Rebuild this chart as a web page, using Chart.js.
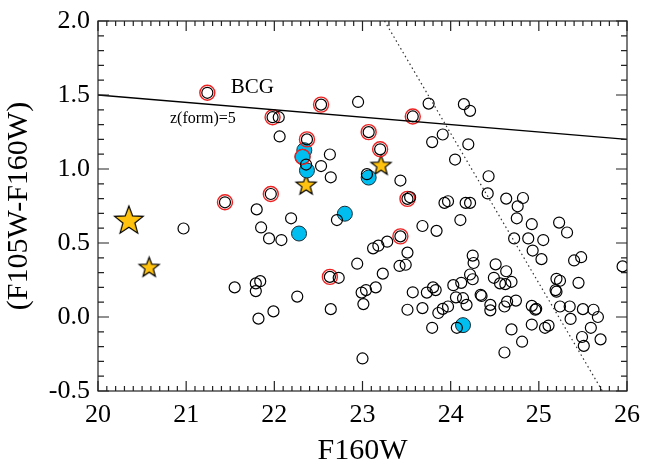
<!DOCTYPE html>
<html>
<head>
<meta charset="utf-8">
<script src="https://cdn.jsdelivr.net/npm/chart.js@4.4.0/dist/chart.umd.min.js"></script>
<style>
    html, body { margin: 0; padding: 0; background: #fff; }
</style>
</head>
<body>
<canvas id="cmdChart" width="651" height="466"></canvas>
<script>
// axis ticks
const xTicks = [20, 21, 22, 23, 24, 25, 26];
const yTicks = [-0.5, 0.0, 0.5, 1.0, 1.5, 2.0];

// field galaxies (open black circles)
const fieldMag = [21.24, 21.98, 22.05, 22.06, 22.53, 22.95, 22.37, 22.63, 22.36, 22.53, 22.64, 21.96, 21.44,
    23.07, 23.75, 23.57, 24.15, 24.22, 23.91, 23.79, 24.20, 23.20, 23.05, 23.43, 24.05, 24.43, 24.42, 24.63,
    24.82, 24.76, 23.51, 23.54, 23.93, 23.97, 24.17, 24.22, 24.75, 24.11, 23.68, 23.84, 23.43, 24.92, 25.23,
    25.32, 24.72, 24.88, 25.05, 24.93, 25.03, 25.40, 25.48, 25.95, 23.12, 23.18, 23.28, 23.51, 23.42, 23.49,
    23.23, 22.94, 24.25, 24.26, 24.51, 24.63, 24.22, 24.25, 24.49, 24.56, 24.62, 24.69, 24.03, 24.12, 23.80,
    23.83, 23.57, 23.73, 24.06, 24.14, 24.18, 24.35, 24.34, 24.45, 24.45, 24.61, 24.64, 24.74, 23.68, 23.51,
    23.01, 22.99, 23.04, 23.15, 23.86, 23.91, 23.97, 23.79, 24.07, 24.69, 24.81, 24.61, 23.00, 24.92, 24.96,
    24.97, 24.92, 25.07, 25.11, 25.20, 25.24, 25.19, 25.20, 25.45, 25.24, 25.35, 25.36, 25.50, 25.62, 25.67,
    25.59, 25.49, 25.51, 25.70, 20.97, 21.80, 21.85, 21.94, 22.08, 22.19, 22.71, 22.63, 22.73, 21.55, 21.79,
    21.84, 21.79, 22.26, 21.99, 21.82, 22.64];
const fieldColor = [1.515, 1.35, 1.35, 1.22, 1.435, 1.453, 1.20, 1.098, 1.03, 1.02, 0.944, 0.831, 0.775,
    1.249, 1.442, 1.355, 1.438, 1.393, 1.233, 1.182, 1.167, 1.133, 0.965, 0.922, 1.064, 0.951, 0.835, 0.80,
    0.804, 0.748, 0.798, 0.809, 0.771, 0.782, 0.771, 0.771, 0.667, 0.655, 0.615, 0.582, 0.545, 0.627, 0.638,
    0.571, 0.531, 0.531, 0.52, 0.449, 0.391, 0.382, 0.404, 0.342, 0.464, 0.482, 0.509, 0.435, 0.345, 0.353,
    0.293, 0.36, 0.415, 0.365, 0.356, 0.309, 0.287, 0.255, 0.265, 0.227, 0.222, 0.238, 0.215, 0.231, 0.20,
    0.182, 0.167, 0.165, 0.133, 0.127, 0.082, 0.142, 0.15, 0.082, 0.045, 0.071, 0.104, 0.111, 0.06, 0.049,
    0.087, 0.165, 0.182, 0.20, 0.027, 0.055, 0.071, -0.073, -0.073, -0.084, -0.167, -0.24, -0.28, 0.075, 0.049,
    0.055, -0.051, -0.073, -0.058, 0.258, 0.245, 0.182, 0.171, 0.231, 0.071, 0.071, -0.013, 0.053, 0.049, 0.0,
    -0.073, -0.135, -0.195, -0.151, 0.598, 0.727, 0.605, 0.531, 0.52, 0.667, 0.655, 0.271, 0.265, 0.20, 0.227,
    0.242, 0.175, 0.138, 0.038, -0.011, 0.053];

// red rings
const ringMag = [21.24, 21.98, 22.53, 22.37, 22.32, 23.07, 23.57, 23.20, 21.96, 21.44, 23.51, 23.43, 22.63];
const ringColor = [1.515, 1.35, 1.435, 1.20, 1.082, 1.249, 1.355, 1.133, 0.831, 0.775, 0.798, 0.545, 0.271];

// filled blue circles
const blueMag = [22.34, 22.32, 22.37, 23.07, 22.28, 22.80, 24.14];
const blueColor = [1.127, 1.082, 0.99, 0.942, 0.564, 0.698, -0.055];

// stars (first one is the big one)
const starMag = [20.35, 20.58, 22.36, 23.21];
const starColor = [0.649, 0.333, 0.889, 1.022];

// red sequence line and magnitude cut
const bcgMag = [20, 26];
const bcgColor = [1.5, 1.2];
const cutMag = [23.25, 25.72];
const cutColor = [2.0, -0.5];

const serif = "'Liberation Serif', 'Times New Roman', serif";

function toPoints(xs, ys) {
    return xs.map((x, i) => ({ x: x, y: ys[i] }));
}

function starImage(r) {
    const c = document.createElement('canvas');
    const s = Math.ceil(2 * r + 4);
    c.width = s;
    c.height = s;
    const g = c.getContext('2d');
    g.beginPath();
    for (let i = 0; i < 10; i++) {
        const a = -Math.PI / 2 + i * Math.PI / 5;
        const rr = i % 2 ? r * 0.42 : r;
        g.lineTo(s / 2 + rr * Math.cos(a), s / 2 + rr * Math.sin(a));
    }
    g.closePath();
    g.fillStyle = '#ffc20e';
    g.fill();
    g.lineWidth = 1.2;
    g.strokeStyle = '#000';
    g.stroke();
    return c;
}

const bigStar = starImage(15);
const smallStar = starImage(10.5);

// frame, inward ticks on all sides, labels in the plot
const axisDecor = {
    id: 'axisDecor',
    afterDraw(chart) {
        const ctx = chart.ctx;
        const a = chart.chartArea;
        const xs = chart.scales.x;
        const ys = chart.scales.y;
        ctx.save();
        ctx.strokeStyle = '#222';
        ctx.lineWidth = 1.2;
        ctx.strokeRect(a.left, a.top, a.right - a.left, a.bottom - a.top);

        ctx.beginPath();
        const nx = Math.round((xs.max - xs.min) / 0.1);
        for (let i = 0; i <= nx; i++) {
            const v = xs.min + i * 0.1;
            const px = xs.getPixelForValue(v);
            const len = i % 10 === 0 ? 10 : 5;
            ctx.moveTo(px, a.bottom);
            ctx.lineTo(px, a.bottom - len);
            ctx.moveTo(px, a.top);
            ctx.lineTo(px, a.top + len);
        }
        const ny = Math.round((ys.max - ys.min) / 0.1);
        for (let i = 0; i <= ny; i++) {
            const v = ys.min + i * 0.1;
            const py = ys.getPixelForValue(v);
            const len = i % 5 === 0 ? 11 : 6;
            ctx.moveTo(a.left, py);
            ctx.lineTo(a.left + len, py);
            ctx.moveTo(a.right, py);
            ctx.lineTo(a.right - len, py);
        }
        ctx.stroke();

        ctx.fillStyle = '#000';
        ctx.textAlign = 'center';
        ctx.textBaseline = 'middle';
        ctx.font = '21px ' + serif;
        ctx.fillText('BCG', xs.getPixelForValue(21.75), ys.getPixelForValue(1.548));
        ctx.font = '16px ' + serif;
        ctx.fillText('z(form)=5', xs.getPixelForValue(21.19), ys.getPixelForValue(1.341));
        ctx.restore();
    }
};

new Chart(document.getElementById('cmdChart'), {
    type: 'scatter',
    data: {
        datasets: [
            {
                type: 'line',
                data: toPoints(bcgMag, bcgColor),
                borderColor: '#000',
                borderWidth: 1.3,
                pointRadius: 0,
                fill: false
            },
            {
                type: 'line',
                data: toPoints(cutMag, cutColor),
                borderColor: '#333',
                borderWidth: 1.2,
                borderDash: [1.5, 3],
                pointRadius: 0,
                fill: false
            },
            {
                data: toPoints(fieldMag, fieldColor),
                pointRadius: 5.5,
                pointBackgroundColor: 'rgba(0,0,0,0)',
                pointBorderColor: '#000',
                pointBorderWidth: 1.2
            },
            {
                data: toPoints(ringMag, ringColor),
                pointRadius: 7.5,
                pointBackgroundColor: 'rgba(0,0,0,0)',
                pointBorderColor: '#ee2020',
                pointBorderWidth: 1.4
            },
            {
                data: toPoints(blueMag, blueColor),
                pointRadius: 7.5,
                pointBackgroundColor: '#00bff0',
                pointBorderColor: '#1b2b33',
                pointBorderWidth: 1
            },
            {
                data: toPoints(starMag, starColor),
                pointStyle: [bigStar, smallStar, smallStar, smallStar]
            }
        ]
    },
    options: {
        responsive: false,
        animation: false,
        events: [],
        layout: { padding: { top: 13, right: 15, left: 0, bottom: 0 } },
        plugins: {
            legend: { display: false },
            tooltip: { enabled: false }
        },
        scales: {
            x: {
                type: 'linear',
                min: 20,
                max: 26,
                afterBuildTicks: s => { s.ticks = xTicks.map(v => ({ value: v })); },
                afterFit: s => { s.height = 75; },
                grid: { display: false, drawTicks: false },
                border: { display: false },
                ticks: {
                    padding: 11,
                    color: '#000',
                    maxRotation: 0,
                    font: { family: serif, size: 26, lineHeight: 1 },
                    callback: v => String(v)
                },
                title: {
                    display: true,
                    text: 'F160W',
                    color: '#000',
                    padding: { top: 0, bottom: 0 },
                    font: { family: serif, size: 30, lineHeight: 1 }
                }
            },
            y: {
                type: 'linear',
                min: -0.5,
                max: 2.0,
                afterBuildTicks: s => { s.ticks = yTicks.map(v => ({ value: v })); },
                afterFit: s => { s.width = 98; },
                grid: { display: false, drawTicks: false },
                border: { display: false },
                ticks: {
                    padding: 8,
                    color: '#000',
                    font: { family: serif, size: 26, lineHeight: 1 },
                    callback: v => v.toFixed(1)
                },
                title: {
                    display: true,
                    text: '(F105W-F160W)',
                    color: '#000',
                    padding: { top: 4, bottom: 0 },
                    font: { family: serif, size: 30, lineHeight: 1 }
                }
            }
        }
    },
    plugins: [axisDecor]
});
</script>
</body>
</html>
